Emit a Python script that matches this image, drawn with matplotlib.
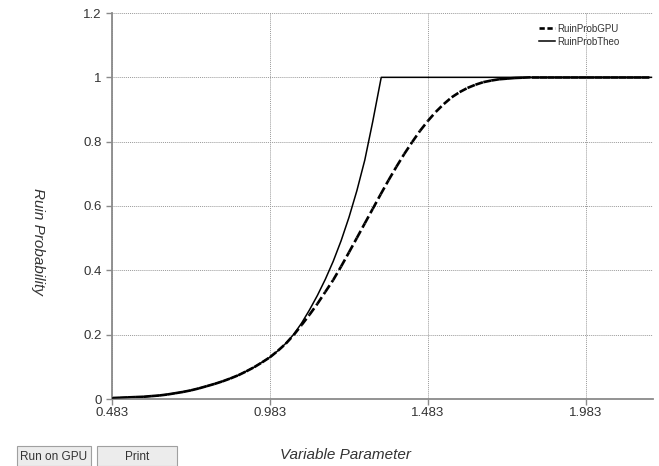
import matplotlib
matplotlib.use("Agg")
import matplotlib.pyplot as plt
import numpy as np
from matplotlib.collections import LineCollection
from matplotlib.lines import Line2D
from matplotlib.patches import FancyBboxPatch

plt.rcParams['font.family'] = ['Liberation Sans', 'DejaVu Sans']

# data
gpu_x = [0.483, 0.508, 0.533, 0.558, 0.583, 0.608, 0.633, 0.658, 0.683, 0.708,
         0.733, 0.758, 0.783, 0.808, 0.833, 0.858, 0.883, 0.908, 0.933, 0.958,
         0.983, 1.008, 1.033, 1.058, 1.083, 1.108, 1.133, 1.158, 1.183, 1.208,
         1.233, 1.258, 1.283, 1.308, 1.333, 1.358, 1.383, 1.408, 1.433, 1.458,
         1.483, 1.508, 1.533, 1.558, 1.583, 1.608, 1.633, 1.658, 1.683, 1.708,
         1.733, 1.758, 1.783, 1.808, 1.833, 1.858, 1.883, 1.908, 1.933, 1.958,
         1.983, 2.008, 2.033, 2.058, 2.083, 2.108, 2.133, 2.158, 2.183]
gpu_y = [0.003, 0.004, 0.005, 0.006, 0.007, 0.009, 0.011, 0.014, 0.018, 0.022,
         0.027, 0.033, 0.040, 0.047, 0.055, 0.064, 0.074, 0.086, 0.099, 0.114,
         0.130, 0.150, 0.172, 0.199, 0.230, 0.262, 0.296, 0.333, 0.370, 0.412,
         0.456, 0.501, 0.546, 0.591, 0.636, 0.680, 0.722, 0.762, 0.799, 0.834,
         0.865, 0.893, 0.917, 0.938, 0.954, 0.967, 0.977, 0.985, 0.990, 0.994,
         0.996, 0.998, 0.999, 1.0, 1.0, 1.0, 1.0, 1.0, 1.0, 1.0,
         1.0, 1.0, 1.0, 1.0, 1.0, 1.0, 1.0, 1.0, 1.0]

theo_x = [0.483, 0.533, 0.583, 0.633, 0.683, 0.733, 0.783, 0.833, 0.883, 0.933,
          0.983, 1.008, 1.033, 1.058, 1.083, 1.108, 1.133, 1.158, 1.183, 1.208,
          1.233, 1.258, 1.283, 1.308, 1.335, 2.19]
theo_y = [0.003, 0.005, 0.007, 0.011, 0.018, 0.027, 0.040, 0.055, 0.074, 0.099,
          0.130, 0.150, 0.173, 0.201, 0.236, 0.277, 0.322, 0.372, 0.428, 0.492,
          0.565, 0.648, 0.743, 0.862, 1.0, 1.0]

x_ticks = [0.483, 0.983, 1.483, 1.983]
x_labels = ['0.483', '0.983', '1.483', '1.983']
y_ticks = [0, 0.2, 0.4, 0.6, 0.8, 1.0, 1.2]
y_labels = ['0', '0.2', '0.4', '0.6', '0.8', '1', '1.2']

fig = plt.figure(figsize=(6.59, 4.66), dpi=100)
ax = fig.add_axes([112 / 659, 67 / 466, 541 / 659, 386 / 466])

# dashed series: each segment gets its own dash pattern (like the original renderer)
pts = np.column_stack([gpu_x, gpu_y])
segs = np.stack([pts[:-1], pts[1:]], axis=1)
lc = LineCollection(segs, colors='black', linewidths=1.9, linestyles=[(0, (3, 1.4))],
                    capstyle='butt')
ax.add_collection(lc)
ax.plot(theo_x, theo_y, color='black', lw=1.1, zorder=3)

ax.set_xlim(0.483, 2.195)
ax.set_ylim(0, 1.2)
ax.set_xticks(x_ticks)
ax.set_xticklabels(x_labels)
ax.set_yticks(y_ticks)
ax.set_yticklabels(y_labels)
ax.grid(True, color='#9a9a9a', linestyle=(0, (1, 1)), linewidth=0.7)
ax.set_axisbelow(True)

for s in ['top', 'right']:
    ax.spines[s].set_visible(False)
for s in ['left', 'bottom']:
    ax.spines[s].set_color('#8a8a8a')
    ax.spines[s].set_linewidth(1.3)
ax.tick_params(axis='both', colors='#8a8a8a', labelcolor='#333333', labelsize=9.5,
               length=4, width=1, direction='out')
ax.tick_params(axis='x', pad=2)

handles = [Line2D([], [], color='black', lw=1.9, linestyle=(0, (2, 1))),
           Line2D([], [], color='black', lw=1.1)]
ax.legend(handles, ['RuinProbGPU', 'RuinProbTheo'], loc='upper right',
          bbox_to_anchor=(0.955, 0.995), frameon=False, fontsize=7, handlelength=1.6,
          handletextpad=0.3, labelspacing=0.3, labelcolor='#333333')

fig.text(38 / 659, 1 - 241 / 466, 'Ruin Probability', rotation=270, style='italic',
         fontsize=11, color='#333333', ha='center', va='center')
fig.text(345 / 659, 1 - 455 / 466, 'Variable Parameter', style='italic',
         fontsize=11, color='#333333', ha='center', va='center')

# the two buttons under the chart
for x0, x1, label in [(17, 91, 'Run on GPU'), (97, 177, 'Print')]:
    fig.patches.append(FancyBboxPatch((x0 / 659, 0 / 466), (x1 - x0) / 659, 20 / 466,
                                      boxstyle='square,pad=0', transform=fig.transFigure,
                                      facecolor='#ececec', edgecolor='#a0a0a0', lw=0.8))
    fig.text((x0 + x1) / 2 / 659, 9 / 466, label, fontsize=8.5, color='#333333',
             ha='center', va='center')

fig.savefig('out.png', dpi=100)
